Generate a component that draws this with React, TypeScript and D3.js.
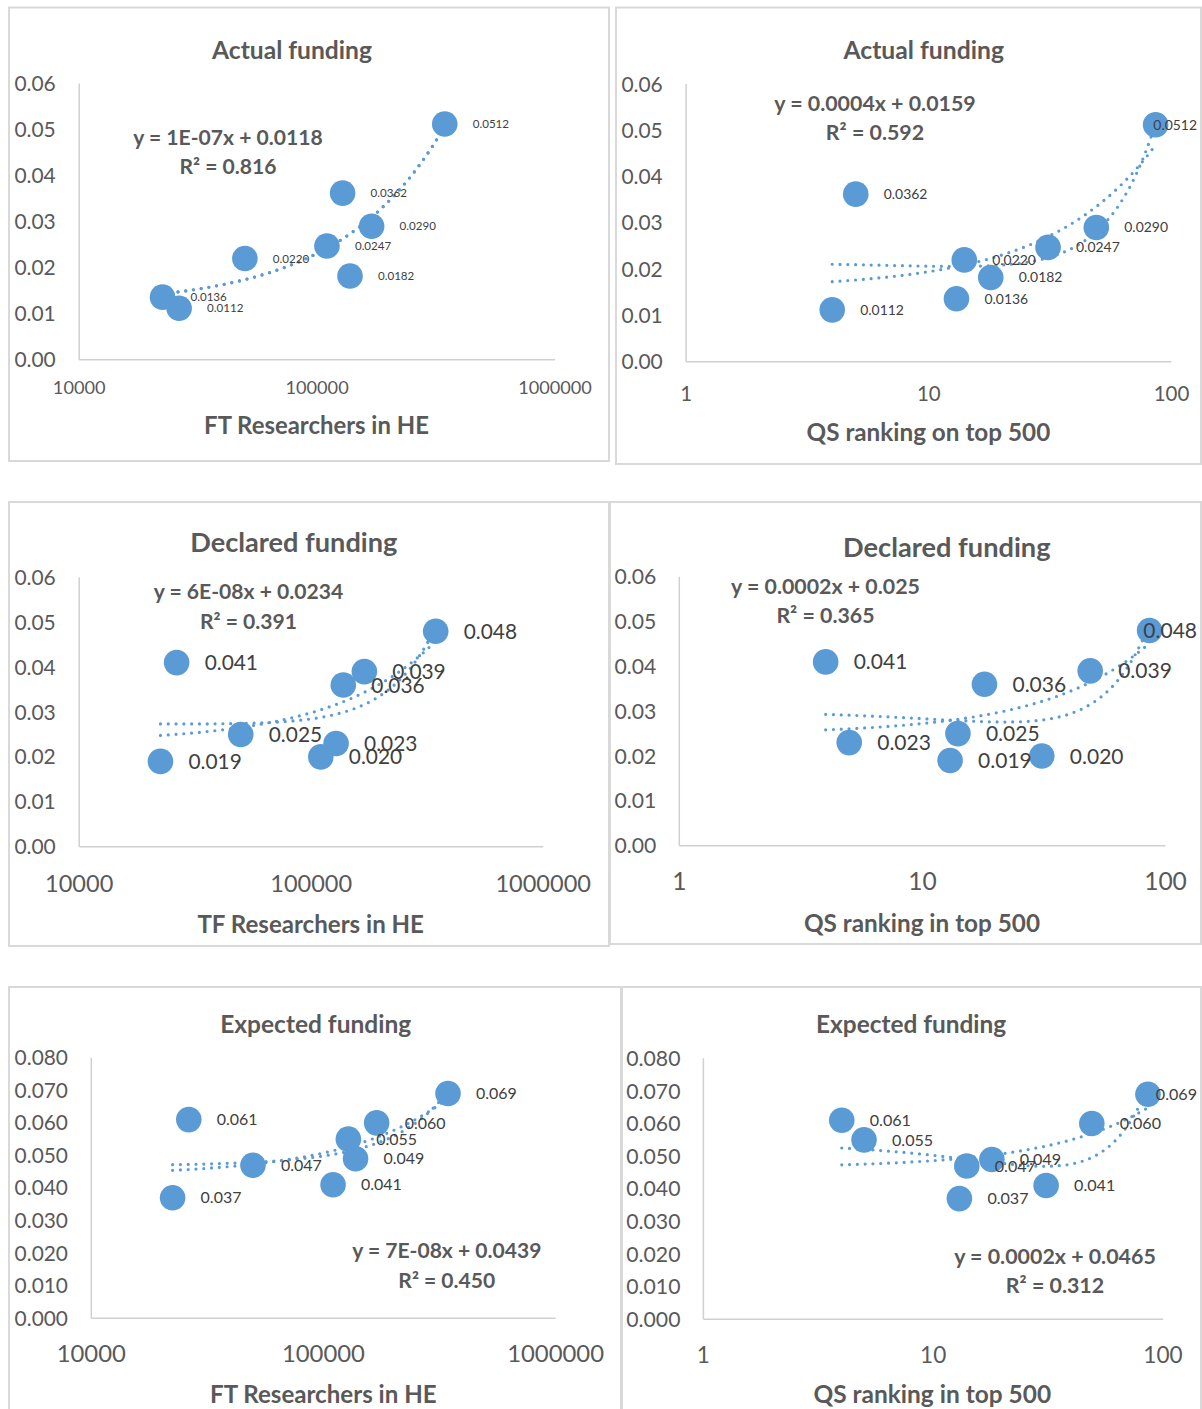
import React from "react";
import * as d3 from "d3";

// ---------- data ----------
const ftResearchers = [22400, 26300, 49700, 110000, 128000, 137500, 169500, 344000];
const qsRanking = [13, 4, 14, 31, 5, 18, 49, 86];
const actualFunding = [0.0136, 0.0112, 0.022, 0.0247, 0.0362, 0.0182, 0.029, 0.0512];
const declaredFunding = [0.019, 0.041, 0.025, 0.02, 0.023, 0.036, 0.039, 0.048];
const expectedFunding = [0.037, 0.061, 0.047, 0.041, 0.055, 0.049, 0.06, 0.069];

const researcherTicks = [10000, 100000, 1000000];
const qsTicks = [1, 10, 100];
const fundingTicks6 = [0, 0.01, 0.02, 0.03, 0.04, 0.05, 0.06];
const fundingTicks8 = [0, 0.01, 0.02, 0.03, 0.04, 0.05, 0.06, 0.07, 0.08];

const chartTitles = ["Actual funding", "Actual funding", "Declared funding", "Declared funding", "Expected funding", "Expected funding"];
const axisTitles = ["FT Researchers in HE", "QS ranking on top 500", "TF Researchers in HE", "QS ranking in top 500", "FT Researchers in HE", "QS ranking in top 500"];
const equations = ["y = 1E-07x + 0.0118", "y = 0.0004x + 0.0159", "y = 6E-08x + 0.0234", "y = 0.0002x + 0.025", "y = 7E-08x + 0.0439", "y = 0.0002x + 0.0465"];
const rSquared = ["R² = 0.816", "R² = 0.592", "R² = 0.391", "R² = 0.365", "R² = 0.450", "R² = 0.312"];

// ---------- style ----------
const FONT = "Lato, 'Open Sans', sans-serif";
const BLUE = "#5B9BD5";
const TEXT = "#595959";
const LABEL = "#404040";
const BORDER = "#D9D9D9";
const AXIS = "#D0D0D0";
const CAP = 0.358;
const R = 12.8;

// ---------- layout ----------
type Cfg = {
  box: [number, number, number, number];
  titleC: [number, number]; titleW: number;
  xs: number[]; ys: number[];
  xDomain: [number, number]; xRange: [number, number]; xTicks: number[]; xTickY: number; xTickRef: string; xTickW: number;
  yMax: number; yRange: [number, number]; yTicks: number[]; yFmt: string; yTickX: number; yTickW: number;
  axisC: [number, number]; axisW: number;
  eqC: [number, number]; r2Y: number; eqW: number;
  labelFmt: string; labelRef: string; labelW: number;
};

const panels: Cfg[] = [
  {
    box: [9, 7.5, 609, 461], titleC: [292, 50], titleW: 160,
    xs: ftResearchers, ys: actualFunding,
    xDomain: [1e4, 1e6], xRange: [79.2, 555], xTicks: researcherTicks, xTickY: 387.7, xTickRef: "10000", xTickW: 52.7,
    yMax: 0.06, yRange: [359.8, 83.5], yTicks: fundingTicks6, yFmt: ".2f", yTickX: 14.4, yTickW: 41.4,
    axisC: [316.5, 425], axisW: 225.7,
    eqC: [228, 137], r2Y: 166, eqW: 190.3,
    labelFmt: ".4f", labelRef: "0.0512", labelW: 36.3,
  },
  {
    box: [616, 7.5, 1201, 464], titleC: [923.7, 50], titleW: 160.6,
    xs: qsRanking, ys: actualFunding,
    xDomain: [1, 100], xRange: [686.1, 1171.5], xTicks: qsTicks, xTickY: 393.3, xTickRef: "100", xTickW: 35.7,
    yMax: 0.06, yRange: [361.7, 84], yTicks: fundingTicks6, yFmt: ".2f", yTickX: 621.4, yTickW: 41.4,
    axisC: [928.4, 432.7], axisW: 243.8,
    eqC: [875, 103.3], r2Y: 132.7, eqW: 202,
    labelFmt: ".4f", labelRef: "0.0362", labelW: 43.7,
  },
  {
    box: [9, 502, 609, 946], titleC: [293.8, 542.7], titleW: 207.3,
    xs: ftResearchers, ys: declaredFunding,
    xDomain: [1e4, 1e6], xRange: [79.2, 543.2], xTicks: researcherTicks, xTickY: 884, xTickRef: "10000", xTickW: 68.3,
    yMax: 0.06, yRange: [846.7, 577.3], yTicks: fundingTicks6, yFmt: ".2f", yTickX: 14.4, yTickW: 41.4,
    axisC: [310.7, 924], axisW: 227.3,
    eqC: [248.5, 591.7], r2Y: 621, eqW: 190.1,
    labelFmt: ".3f", labelRef: "0.041", labelW: 53.4,
  },
  {
    box: [610, 502, 1201, 944], titleC: [946.8, 547.3], titleW: 207.5,
    xs: qsRanking, ys: declaredFunding,
    xDomain: [1, 100], xRange: [679.3, 1165.5], xTicks: qsTicks, xTickY: 881.7, xTickRef: "100", xTickW: 42.7,
    yMax: 0.06, yRange: [845.7, 576.7], yTicks: fundingTicks6, yFmt: ".2f", yTickX: 614.5, yTickW: 41.9,
    axisC: [922, 923.3], axisW: 236.1,
    eqC: [825.5, 586.7], r2Y: 615.7, eqW: 189.6,
    labelFmt: ".3f", labelRef: "0.041", labelW: 53.7,
  },
  {
    box: [9, 987, 621, 1440], titleC: [315.7, 1024], titleW: 191,
    xs: ftResearchers, ys: expectedFunding,
    xDomain: [1e4, 1e6], xRange: [91.3, 555.6], xTicks: researcherTicks, xTickY: 1353.3, xTickRef: "10000", xTickW: 69.2,
    yMax: 0.08, yRange: [1318.3, 1057.7], yTicks: fundingTicks8, yFmt: ".3f", yTickX: 14.6, yTickW: 53.4,
    axisC: [323.3, 1394.3], axisW: 227.4,
    eqC: [446.8, 1250.7], r2Y: 1280.7, eqW: 189.8,
    labelFmt: ".3f", labelRef: "0.061", labelW: 40.8,
  },
  {
    box: [622, 987, 1201, 1440], titleC: [911.1, 1024], titleW: 190.2,
    xs: qsRanking, ys: expectedFunding,
    xDomain: [1, 100], xRange: [703.4, 1163], xTicks: qsTicks, xTickY: 1355, xTickRef: "100", xTickW: 39.3,
    yMax: 0.08, yRange: [1319.3, 1058.3], yTicks: fundingTicks8, yFmt: ".3f", yTickX: 626.2, yTickW: 54.3,
    axisC: [932.3, 1394], axisW: 237.8,
    eqC: [1055, 1256.7], r2Y: 1285, eqW: 202.2,
    labelFmt: ".3f", labelRef: "0.061", labelW: 41.2,
  },
];

// ---------- helpers ----------
let ctx: CanvasRenderingContext2D | null = null;
function textWidth(text: string, size: number, weight: number) {
  if (!ctx) ctx = document.createElement("canvas").getContext("2d");
  ctx!.font = `${weight} ${size}px Lato`;
  return ctx!.measureText(text).width;
}
function fitSize(text: string, weight: number, target: number) {
  return (100 * target) / textWidth(text, 100, weight);
}

function linearFit(xs: number[], ys: number[]) {
  const mx = d3.mean(xs)!, my = d3.mean(ys)!;
  let sxy = 0, sxx = 0;
  xs.forEach((x, i) => { sxy += (x - mx) * (ys[i] - my); sxx += (x - mx) * (x - mx); });
  const b = sxy / sxx, a = my - b * mx;
  return (x: number) => a + b * x;
}

function solve3(M: number[][], v: number[]) {
  const A = M.map((r, i) => [...r, v[i]]);
  for (let i = 0; i < 3; i++) {
    let p = i;
    for (let r = i + 1; r < 3; r++) if (Math.abs(A[r][i]) > Math.abs(A[p][i])) p = r;
    [A[i], A[p]] = [A[p], A[i]];
    for (let r = 0; r < 3; r++) {
      if (r === i) continue;
      const f = A[r][i] / A[i][i];
      for (let c = i; c < 4; c++) A[r][c] -= f * A[i][c];
    }
  }
  return A.map((r, i) => r[3] / r[i]);
}

function quadFit(xs: number[], ys: number[]) {
  const mx = d3.mean(xs)!, sd = d3.deviation(xs)!;
  const us = xs.map((x) => (x - mx) / sd);
  const S = (k: number) => d3.sum(us, (u) => u ** k);
  const T = (k: number) => d3.sum(us.map((u, i) => u ** k * ys[i]));
  const c = solve3(
    [[S(0), S(1), S(2)], [S(1), S(2), S(3)], [S(2), S(3), S(4)]],
    [T(0), T(1), T(2)]
  );
  return (x: number) => { const u = (x - mx) / sd; return c[0] + c[1] * u + c[2] * u * u; };
}

function Panel({ p, idx }: { p: Cfg; idx: number }) {
  const x = d3.scaleLog().domain(p.xDomain).range(p.xRange);
  const y = d3.scaleLinear().domain([0, p.yMax]).range(p.yRange);
  const yFmt = d3.format(p.yFmt);
  const lFmt = d3.format(p.labelFmt);

  const titleSize = fitSize(chartTitles[idx], 700, p.titleW);
  const yTickSize = fitSize(yFmt(p.yMax), 400, p.yTickW);
  const xTickSize = fitSize(p.xTickRef, 400, p.xTickW);
  const axisSize = fitSize(axisTitles[idx], 700, p.axisW);
  const eqSize = fitSize(equations[idx], 700, p.eqW);
  const labelSize = fitSize(p.labelRef, 400, p.labelW);

  const [xmin, xmax] = d3.extent(p.xs) as [number, number];
  const samples = d3.range(0, 241).map((i) => Math.exp(Math.log(xmin) + ((Math.log(xmax) - Math.log(xmin)) * i) / 240));
  const line = d3.line<number[]>().x((d) => d[0]).y((d) => d[1]);
  const fits = [linearFit(p.xs, p.ys), quadFit(p.xs, p.ys)];

  const [bx0, by0, bx1, by1] = p.box;

  return (
    <g>
      <rect x={bx0} y={by0} width={bx1 - bx0} height={by1 - by0} fill="#fff" stroke={BORDER} strokeWidth={2} />
      <text x={p.titleC[0]} y={p.titleC[1] + CAP * titleSize} textAnchor="middle" fontSize={titleSize} fontWeight={700} fill={TEXT}>
        {chartTitles[idx]}
      </text>
      {/* axes */}
      <line x1={p.xRange[0]} x2={p.xRange[1]} y1={y(0)} y2={y(0)} stroke={AXIS} strokeWidth={1.5} />
      <line x1={p.xRange[0]} x2={p.xRange[0]} y1={y(0)} y2={y(p.yMax)} stroke={AXIS} strokeWidth={1.5} />
      {p.yTicks.map((t) => (
        <text key={"y" + t} x={p.yTickX} y={y(t) + CAP * yTickSize} fontSize={yTickSize} fill={TEXT}>
          {yFmt(t)}
        </text>
      ))}
      {p.xTicks.map((t) => (
        <text key={"x" + t} x={x(t)} y={p.xTickY + CAP * xTickSize} textAnchor="middle" fontSize={xTickSize} fill={TEXT}>
          {String(t)}
        </text>
      ))}
      <text x={p.axisC[0]} y={p.axisC[1] + CAP * axisSize} textAnchor="middle" fontSize={axisSize} fontWeight={700} fill={TEXT}>
        {axisTitles[idx]}
      </text>
      {/* trendlines */}
      {fits.map((f, k) => (
        <path
          key={"f" + k}
          d={line(samples.map((s) => [x(s), y(f(s))]))!}
          fill="none"
          stroke={BLUE}
          strokeWidth={3.2}
          strokeLinecap="round"
          strokeDasharray="0 7.8"
        />
      ))}
      {/* markers */}
      {p.xs.map((xv, i) => (
        <circle key={"m" + i} cx={x(xv)} cy={y(p.ys[i])} r={R} fill={BLUE} />
      ))}
      {/* data labels */}
      {p.xs.map((xv, i) => {
        const txt = lFmt(p.ys[i]);
        const w = textWidth(txt, labelSize, 400);
        let lx = x(xv) + 28;
        if (lx + w > bx1 - 4) lx = bx1 - 4 - w;
        return (
          <text key={"l" + i} x={lx} y={y(p.ys[i]) + CAP * labelSize} fontSize={labelSize} fill={LABEL}>
            {txt}
          </text>
        );
      })}
      {/* equation */}
      <text x={p.eqC[0]} y={p.eqC[1] + CAP * eqSize} textAnchor="middle" fontSize={eqSize} fontWeight={700} fill={TEXT}>
        {equations[idx]}
      </text>
      <text x={p.eqC[0]} y={p.r2Y + CAP * eqSize} textAnchor="middle" fontSize={eqSize} fontWeight={700} fill={TEXT}>
        {rSquared[idx]}
      </text>
    </g>
  );
}

export default function App() {
  return (
    <svg
      width={1202}
      height={1409}
      style={{ position: "absolute", left: 0, top: 0, background: "#fff" }}
      fontFamily={FONT}
    >
      <rect x={0} y={0} width={1202} height={1409} fill="#fff" />
      {panels.map((p, i) => (
        <Panel key={i} p={p} idx={i} />
      ))}
    </svg>
  );
}
